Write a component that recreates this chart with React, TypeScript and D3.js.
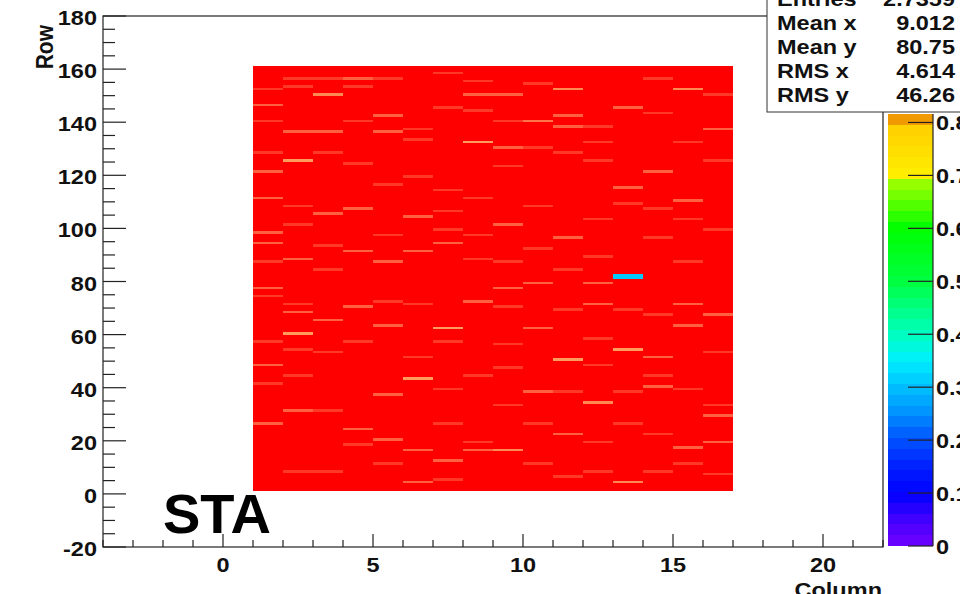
import React from "react";
import * as d3 from "d3";

// ---------- data ----------
const columns = [1, 2, 3, 4, 5, 6, 7, 8, 9, 10, 11, 12, 13, 14, 15, 16];
const rowFirst = 1;
const rowLast = 160;
const baseValue = 0.95;

// [column, row, value] cells that differ from the base value
const hotCells: [number, number, number][] = [
  // bright (orange) streaks
  [2, 125, 0.85], [8, 132, 0.85], [3, 150, 0.86], [2, 60, 0.85], [7, 62, 0.85], [6, 43, 0.85],
  [13, 54, 0.85], [11, 50, 0.85], [13, 4, 0.86], [11, 152, 0.86], [15, 152, 0.86], [10, 140, 0.87],
  [9, 16, 0.86], [12, 34, 0.86],
  // medium streaks
  [1, 121, 0.88], [3, 136, 0.88], [3, 105, 0.88], [4, 107, 0.88], [1, 98, 0.88], [1, 94, 0.88],
  [5, 136, 0.88], [6, 104, 0.88], [6, 91, 0.88], [5, 87, 0.88], [2, 88, 0.88], [4, 91, 0.88],
  [7, 94, 0.88], [1, 111, 0.88], [1, 146, 0.88], [2, 136, 0.88], [5, 142, 0.88], [4, 156, 0.88],
  [8, 150, 0.88], [11, 138, 0.88], [11, 142, 0.88], [13, 145, 0.88], [9, 150, 0.88], [9, 130, 0.88],
  [14, 121, 0.88], [13, 115, 0.88], [11, 96, 0.88], [9, 101, 0.88], [15, 110, 0.88], [16, 137, 0.88],
  [3, 65, 0.88], [8, 72, 0.88], [4, 70, 0.88], [1, 48, 0.88], [5, 37, 0.88], [2, 31, 0.88],
  [4, 24, 0.88], [5, 20, 0.88], [6, 16, 0.88], [6, 4, 0.88], [1, 26, 0.88], [1, 77, 0.88],
  [2, 68, 0.88], [8, 16, 0.88], [7, 12, 0.88], [5, 63, 0.88], [10, 38, 0.88], [10, 62, 0.88],
  [11, 22, 0.88], [16, 29, 0.88], [15, 71, 0.88], [15, 63, 0.88], [12, 71, 0.88], [9, 77, 0.88],
  [10, 79, 0.88], [12, 79, 0.88], [16, 67, 0.88], [14, 51, 0.88], [14, 40, 0.88], [15, 17, 0.88],
  [16, 19, 0.88],
  // faint streaks
  [1, 152, 0.91], [2, 156, 0.91], [2, 153, 0.91], [3, 156, 0.91], [4, 153, 0.91], [5, 156, 0.91],
  [7, 158, 0.91], [8, 155, 0.91], [1, 140, 0.91], [4, 140, 0.91], [6, 137, 0.91], [6, 133, 0.91],
  [7, 145, 0.91], [8, 144, 0.91], [1, 128, 0.91], [3, 128, 0.91], [4, 124, 0.91], [6, 119, 0.91],
  [5, 116, 0.91], [7, 114, 0.91], [8, 111, 0.91], [7, 106, 0.91], [2, 108, 0.91], [5, 97, 0.91],
  [7, 99, 0.91], [8, 97, 0.91], [2, 101, 0.91], [1, 87, 0.91], [3, 93, 0.91], [3, 84, 0.91],
  [8, 88, 0.91], [9, 140, 0.91], [10, 154, 0.91], [12, 138, 0.91], [14, 156, 0.91], [14, 143, 0.91],
  [16, 150, 0.91], [15, 132, 0.91], [12, 132, 0.91], [10, 130, 0.91], [11, 128, 0.91], [9, 123, 0.91],
  [12, 125, 0.91], [16, 125, 0.91], [13, 109, 0.91], [10, 108, 0.91], [14, 107, 0.91], [15, 103, 0.91],
  [12, 103, 0.91], [16, 99, 0.91], [14, 96, 0.91], [10, 92, 0.91], [12, 89, 0.91], [15, 87, 0.91],
  [9, 87, 0.91], [11, 84, 0.91], [1, 74, 0.91], [2, 71, 0.91], [5, 72, 0.91], [6, 71, 0.91],
  [4, 57, 0.91], [1, 57, 0.91], [7, 57, 0.91], [6, 51, 0.91], [2, 54, 0.91], [3, 53, 0.91],
  [8, 44, 0.91], [2, 44, 0.91], [7, 39, 0.91], [1, 41, 0.91], [3, 31, 0.91], [7, 26, 0.91],
  [8, 19, 0.91], [4, 18, 0.91], [2, 8, 0.91], [3, 8, 0.91], [7, 5, 0.91], [5, 11, 0.91],
  [9, 70, 0.91], [11, 69, 0.91], [13, 69, 0.91], [14, 67, 0.91], [9, 56, 0.91], [12, 58, 0.91],
  [16, 53, 0.91], [9, 47, 0.91], [12, 48, 0.91], [14, 44, 0.91], [15, 39, 0.91], [11, 38, 0.91],
  [13, 38, 0.91], [9, 33, 0.91], [16, 33, 0.91], [10, 26, 0.91], [13, 26, 0.91], [12, 19, 0.91],
  [14, 22, 0.91], [10, 11, 0.91], [12, 8, 0.91], [14, 8, 0.91], [16, 7, 0.91], [15, 11, 0.91],
  [11, 6, 0.91],
  // low-efficiency cells
  [13, 81, 0.31], [13, 82, 0.31],
];

const xMajorTicks = [0, 5, 10, 15, 20];
const yMajorTicks = [-20, 0, 20, 40, 60, 80, 100, 120, 140, 160, 180];
const zTicks = [0, 0.1, 0.2, 0.3, 0.4, 0.5, 0.6, 0.7, 0.8];
const zTickLabels = ["0", "0.1", "0.2", "0.3", "0.4", "0.5", "0.6", "0.7", "0.8"];
const zMax = 0.816;

const paletteStops = [0, 0.05, 0.1, 0.15, 0.2, 0.25, 0.3, 0.35, 0.4, 0.45, 0.5, 0.6, 0.65, 0.69, 0.7, 0.79, 0.8, 0.816];
const paletteColors = [
  "#7000ff", "#4000ff", "#0000ff", "#0020ff", "#0050ff", "#0090ff", "#00c0ff", "#00f0ff",
  "#00ffc0", "#00ff80", "#00ff40", "#00ff00", "#60ff00", "#a0ff00", "#ffee00", "#ffd000",
  "#f0a000", "#f09000",
];
const overStops = [0.85, 0.88, 0.91, 0.95];
const overColors = ["#ff9c5c", "#ff6040", "#ff3828", "#ff0000"];

const statsLabels = ["Entries", "Mean x", "Mean y", "RMS x", "RMS y"];
const statsValues = ["2.7359", "9.012", "80.75", "4.614", "46.26"];

// ---------- layout ----------
const W = 960;
const H = 594;
const FONT = "'Liberation Sans', Arial, Helvetica, sans-serif";
const FS = 21;
const SX = 1.12;
const INK = "#111";

const x = d3.scaleLinear().domain([-4, 22]).range([103, 883]);
const y = d3.scaleLinear().domain([-20, 180]).range([547, 16]);
const zY = d3.scaleLinear().domain([0, zMax]).range([546, 114]);
const paletteColor = d3.scaleLinear<string>().domain(paletteStops).range(paletteColors).clamp(true);
const overColor = d3.scaleLinear<string>().domain(overStops).range(overColors).clamp(true);
const cellColor = (v: number) => (v <= zMax ? paletteColor(v) : overColor(v));

const T = ({ x: tx, y: ty, anchor = "start", children, size = FS }: any) => (
  <text
    transform={`translate(${tx},${ty}) scale(${SX},1)`}
    textAnchor={anchor}
    fontFamily={FONT}
    fontWeight="bold"
    fontSize={size}
    fill={INK}
  >
    {children}
  </text>
);

export default function App() {
  const lookup = new Map<string, number>();
  hotCells.forEach(([c, r, v]) => lookup.set(`${c},${r}`, v));
  const rows = d3.range(rowFirst, rowLast + 1);
  const cells: { c: number; r: number; v: number }[] = [];
  columns.forEach((c) => rows.forEach((r) => cells.push({ c, r, v: lookup.get(`${c},${r}`) ?? baseValue })));

  const xMinor = d3.range(-4, 23, 1).filter((t) => !xMajorTicks.includes(t));
  const yMinor = d3.range(-20, 181, 5).filter((t) => !yMajorTicks.includes(t));

  const nBands = 40;
  const bands = d3.range(nBands).map((i) => {
    const z0 = (i * zMax) / nBands;
    const z1 = ((i + 1) * zMax) / nBands;
    return { z0, z1, color: paletteColor((z0 + z1) / 2) };
  });

  const [x0, x1] = x.range();
  const [yb, yt] = y.range();

  return (
    <svg width={W} height={H} style={{ position: "absolute", left: 0, top: 0, background: "#fff" }}>
      <rect x={0} y={0} width={W} height={H} fill="#fff" />
      {/* cells */}
      <g shapeRendering="crispEdges">
        {cells.map((d) => (
          <rect
            key={`${d.c}-${d.r}`}
            x={x(d.c)}
            y={y(d.r + 1)}
            width={x(d.c + 1) - x(d.c)}
            height={y(d.r) - y(d.r + 1)}
            fill={cellColor(d.v)}
          />
        ))}
      </g>

      {/* frame */}
      <rect x={x0} y={yt} width={x1 - x0} height={yb - yt} fill="none" stroke="#222" strokeWidth={1.2} />

      {/* ticks */}
      <g stroke="#222" strokeWidth={1.2}>
        {yMajorTicks.map((t) => (
          <line key={`ym${t}`} x1={x0} x2={x0 + 23} y1={y(t)} y2={y(t)} />
        ))}
        {yMinor.map((t) => (
          <line key={`yn${t}`} x1={x0} x2={x0 + 12} y1={y(t)} y2={y(t)} />
        ))}
        {xMajorTicks.map((t) => (
          <line key={`xm${t}`} x1={x(t)} x2={x(t)} y1={yb} y2={yb - 13} />
        ))}
        {xMinor.map((t) => (
          <line key={`xn${t}`} x1={x(t)} x2={x(t)} y1={yb} y2={yb - 7} />
        ))}
      </g>
      {yMajorTicks.map((t) => (
        <T key={`yl${t}`} x={97} y={y(t) + 9} anchor="end">
          {t}
        </T>
      ))}
      {xMajorTicks.map((t) => (
        <T key={`xl${t}`} x={x(t)} y={572} anchor="middle">
          {t}
        </T>
      ))}

      {/* axis titles */}
      <text
        transform={`translate(53,25) scale(${SX},1) rotate(-90)`}
        textAnchor="end"
        fontFamily={FONT}
        fontWeight="bold"
        fontSize={FS}
        fill={INK}
      >
        Row
      </text>
      <T x={882} y={597} anchor="end">
        Column
      </T>

      {/* label */}
      <text x={163} y={533} fontFamily={FONT} fontWeight="bold" fontSize={56} fill="#000">
        STA
      </text>

      {/* palette */}
      <g shapeRendering="crispEdges">
        {bands.map((b, i) => (
          <rect key={`pb${i}`} x={888} y={zY(b.z1)} width={45} height={zY(b.z0) - zY(b.z1)} fill={b.color} />
        ))}
      </g>
      <line x1={933} x2={933} y1={zY(zMax)} y2={zY(0)} stroke="#222" strokeWidth={1.2} />
      <g stroke="#222" strokeWidth={1.2}>
        {zTicks.map((t) => (
          <line key={`zt${t}`} x1={933} x2={908} y1={zY(t)} y2={zY(t)} />
        ))}
      </g>
      {zTicks.map((t, i) => (
        <T key={`zl${t}`} x={936} y={zY(t) + 8} anchor="start">
          {zTickLabels[i]}
        </T>
      ))}

      {/* stats box */}
      <rect x={767} y={-10} width={210} height={122} fill="#fff" stroke="#333" strokeWidth={1} />
      {statsLabels.map((l, i) => (
        <g key={`st${i}`}>
          <T x={777} y={6 + i * 24} anchor="start">
            {l}
          </T>
          <T x={955} y={6 + i * 24} anchor="end">
            {statsValues[i]}
          </T>
        </g>
      ))}
    </svg>
  );
}
